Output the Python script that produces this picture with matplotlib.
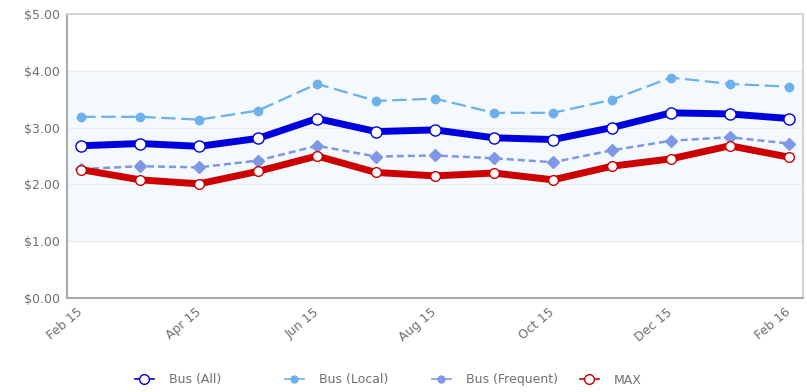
import matplotlib
matplotlib.use("Agg")
import matplotlib.pyplot as plt
from matplotlib.lines import Line2D

plt.rcParams['font.family'] = ['DejaVu Sans']

months = ["Feb 15", "Mar 15", "Apr 15", "May 15", "Jun 15", "Jul 15", "Aug 15",
          "Sep 15", "Oct 15", "Nov 15", "Dec 15", "Jan 16", "Feb 16"]
tick_labels = ["Feb 15", "Apr 15", "Jun 15", "Aug 15", "Oct 15", "Dec 15", "Feb 16"]
y_ticks = [0, 1, 2, 3, 4, 5]

bus_all = [2.68, 2.72, 2.67, 2.81, 3.16, 2.93, 2.96, 2.82, 2.79, 3.00, 3.26, 3.24, 3.16]
bus_local = [3.19, 3.19, 3.14, 3.30, 3.77, 3.47, 3.51, 3.26, 3.26, 3.49, 3.88, 3.77, 3.72]
bus_frequent = [2.27, 2.32, 2.30, 2.42, 2.68, 2.49, 2.51, 2.46, 2.39, 2.60, 2.77, 2.83, 2.72]
max_rail = [2.26, 2.08, 2.01, 2.23, 2.50, 2.21, 2.15, 2.20, 2.08, 2.32, 2.45, 2.68, 2.48]

W, H = 807, 392
fig = plt.figure(figsize=(W / 100, H / 100), dpi=100)
ax = fig.add_axes([67 / W, 1 - 298 / H, (803 - 67) / W, (298 - 14) / H])

x = list(range(len(months)))

# shaded band and light gridlines
ax.axhspan(1, 4, color="#f4f9fe", zorder=0)
for v in y_ticks[1:-1]:
    ax.axhline(v, color="#ececec", lw=0.8, zorder=1)

c_all = "#0000dd"
c_local = "#6cb0ec"
c_freq = "#7f98e6"
c_max = "#cc0000"

ax.plot(x, bus_local, color=c_local, lw=1.6, dashes=(6.5, 2.5),
        marker="o", ms=6, mfc=c_local, mec=c_local, zorder=3)
ax.plot(x, bus_frequent, color=c_freq, lw=1.8, dashes=(2.8, 1.6),
        marker="D", ms=6, mfc=c_freq, mec=c_freq, zorder=3)
ax.plot(x, max_rail, color=c_max, lw=5, solid_capstyle="butt",
        marker="o", ms=7, mfc="white", mec=c_max, mew=1.0, zorder=4)
ax.plot(x, bus_all, color=c_all, lw=5, solid_capstyle="butt",
        marker="o", ms=8, mfc="white", mec=c_all, mew=1.0, zorder=5)

ax.set_xlim(-0.24, len(months) - 1 + 0.24)
ax.set_ylim(0, 5)
ax.set_yticks(y_ticks)
ax.set_yticklabels([f"${v:.2f}" for v in y_ticks])

tick_pos = [months.index(t) for t in tick_labels]
ax.set_xticks(tick_pos)
ax.set_xticklabels(tick_labels, rotation=40, ha="right", va="center",
                   rotation_mode="anchor")

ax.tick_params(axis="both", length=0, labelsize=9, labelcolor="#707070")
ax.tick_params(axis="x", pad=9)
ax.tick_params(axis="y", pad=5)

for side in ["left", "bottom"]:
    ax.spines[side].set_color("#aaaaaa")
    ax.spines[side].set_linewidth(1.5)
for side in ["top", "right"]:
    ax.spines[side].set_color("#d4d4d4")
    ax.spines[side].set_linewidth(1.5)

# legend entries sit in equally spaced slots along the bottom
labels = ["Bus (All)", "Bus (Local)", "Bus (Frequent)", "MAX"]
handles = [
    Line2D([], [], color=c_all, lw=1.2, marker="o", ms=7, mfc="white", mec=c_all),
    Line2D([], [], color=c_local, lw=1.2, marker="o", ms=5, mfc=c_local, mec=c_local),
    Line2D([], [], color=c_freq, lw=1.2, marker="o", ms=5, mfc=c_freq, mec=c_freq),
    Line2D([], [], color=c_max, lw=1.2, marker="o", ms=7, mfc="white", mec=c_max),
]
slot_x = [135, 285, 432, 580]
for h, lab, sx in zip(handles, labels, slot_x):
    leg = fig.legend([h], [lab], loc="center left", bbox_to_anchor=(sx / W, 1 - 380 / H),
                     frameon=False, fontsize=9, handlelength=1.5,
                     handletextpad=1.2, borderpad=0, borderaxespad=0)
    for t in leg.get_texts():
        t.set_color("#707070")

fig.savefig("out.png", dpi=100)
